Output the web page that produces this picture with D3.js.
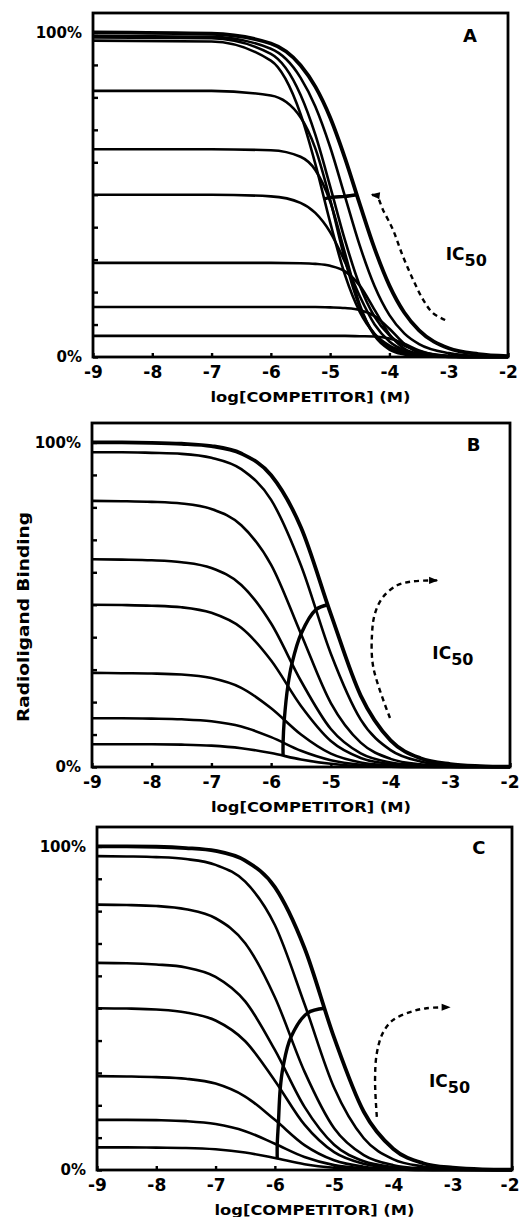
<!DOCTYPE html>
<html>
<head>
<meta charset="utf-8">
<script src="https://cdn.jsdelivr.net/npm/d3@7"></script>
<style>
  body { margin: 0; background: #fff; }
  text { font-family: "DejaVu Sans", "Liberation Sans", sans-serif; font-weight: bold; fill: #000; }
</style>
</head>
<body>
<div id="chart"></div>
<script>
// axis values
const xTicks = [-9, -8, -7, -6, -5, -4, -3, -2];
const yTicks = [0, 10, 20, 30, 40, 50, 60, 70, 80, 90, 100];
const yTickLabels = { 0: '0%', 100: '100%' };
const xTitle = 'log[COMPETITOR] (M)';
const yTitle = 'Radioligand  Binding';

// panel A: log[competitor] sample points and % binding per curve
const logA = [-9, -7, -6, -5.5, -5.25, -5, -4.75, -4.5, -4.25, -4, -3.75, -3.5, -3, -2.5, -2];
const bindA = [
  [100, 99.6, 96.6, 89.9, 83.3, 73.8, 61.3, 47.1, 33.4, 22.0, 13.7, 8.2, 2.7, 0.9, 0.3],
  [99, 98.7, 95.0, 86.1, 77.2, 64.7, 49.5, 34.3, 21.8, 12.9, 7.3, 4.0, 1.2, 0.3, 0.1],
  [98.5, 98.2, 93.4, 80.8, 68.5, 52.6, 36.0, 22.0, 12.4, 6.7, 3.5, 1.8, 0.4, 0.1, 0],
  [97.5, 97.2, 91.3, 74.9, 59.5, 41.5, 25.3, 13.9, 7.1, 3.5, 1.7, 0.8, 0.2, 0, 0],
  [82, 82, 80.6, 73.9, 64.3, 48.5, 30.0, 15.3, 6.9, 2.9, 1.2, 0.5, 0.1, 0, 0],
  [64, 64, 63.7, 61.7, 57.6, 47.9, 32.0, 16.1, 6.5, 2.3, 0.8, 0.3, 0, 0, 0],
  [50, 50, 49.5, 47.5, 44.4, 38.5, 29.3, 18.7, 10.0, 4.8, 2.1, 0.9, 0.2, 0, 0],
  [29, 29, 29, 28.9, 28.7, 28.1, 26.4, 22.0, 14.5, 7.0, 2.6, 0.9, 0, 0, 0],
  [15.4, 15.4, 15.4, 15.4, 15.4, 15.3, 15.1, 14.5, 12.6, 8.7, 4.1, 1.4, 0.1, 0, 0],
  [6.5, 6.5, 6.5, 6.5, 6.5, 6.5, 6.5, 6.4, 6.3, 5.7, 4.1, 2.0, 0.2, 0, 0]
];
const ic50A = [-4.55, -4.75, -4.95, -5.1];
const arrowA = [[-3.06, 11.4], [-3.27, 13.6], [-3.43, 17.6], [-3.60, 23.8], [-3.77, 30.9],
  [-3.94, 39.2], [-4.11, 45.4], [-4.21, 49.4], [-4.3, 50.0]];

// panel B
const logB = [-9, -8.5, -8, -7.5, -7, -6.5, -6, -5.5, -5, -4.5, -4, -3.5, -3, -2.5, -2];
const bindB = [
  [100, 100, 99.9, 99.6, 98.9, 96.6, 89.9, 73.8, 47.1, 22.0, 8.2, 2.7, 0.9, 0.3, 0.1],
  [97, 97, 96.8, 96.5, 95.3, 91.8, 82.3, 62.1, 34.9, 14.6, 5.2, 1.7, 0.5, 0.2, 0],
  [82, 81.9, 81.7, 81.2, 79.5, 74.5, 62.3, 41.0, 19.7, 7.5, 2.5, 0.8, 0.3, 0.1, 0],
  [64, 63.9, 63.7, 63.1, 61.3, 56.1, 44.2, 26.5, 11.7, 4.2, 1.4, 0.5, 0.1, 0, 0],
  [50, 49.9, 49.7, 49.2, 47.5, 42.9, 32.8, 18.8, 8.0, 2.8, 0.9, 0.3, 0.1, 0, 0],
  [29, 28.9, 28.8, 28.5, 27.4, 24.4, 18.1, 10.0, 4.1, 1.4, 0.5, 0.1, 0, 0, 0],
  [15, 15, 14.9, 14.7, 14.1, 12.5, 9.2, 5.0, 2.1, 0.7, 0.2, 0, 0, 0, 0],
  [7, 7, 7, 6.9, 6.6, 5.8, 4.3, 2.3, 1.0, 0.3, 0.1, 0, 0, 0, 0]
];
const ic50B = [-5.05, -5.25, -5.5, -5.65, -5.72, -5.78, -5.8, -5.8];
const arrowB = [[-4.01, 15.1], [-4.29, 30.8], [-4.31, 41.2], [-4.26, 47.4], [-4.13, 52.3],
  [-3.89, 56.0], [-3.62, 57.2], [-3.22, 57.5]];

// panel C
const logC = [-9, -8.5, -8, -7.5, -7, -6.5, -6, -5.5, -5, -4.5, -4, -3.5, -3, -2.5, -2];
const bindC = [
  [100, 100, 99.9, 99.5, 98.6, 95.6, 87.4, 68.6, 40.9, 18.0, 6.5, 2.1, 0.7, 0.2, 0.1],
  [97, 96.9, 96.7, 96.1, 94.3, 89.1, 75.7, 51.3, 25.4, 9.8, 3.3, 1.1, 0.3, 0.1, 0],
  [82, 81.9, 81.6, 80.6, 77.8, 70.1, 53.4, 30.4, 12.9, 4.6, 1.5, 0.5, 0.2, 0.1, 0],
  [64, 63.9, 63.5, 62.6, 59.7, 52.1, 37.1, 19.5, 7.8, 2.7, 0.9, 0.3, 0.1, 0, 0],
  [50, 49.9, 49.6, 48.7, 46.2, 39.8, 27.6, 14.0, 5.5, 1.9, 0.6, 0.2, 0.1, 0, 0],
  [29, 28.9, 28.7, 28.2, 26.7, 22.7, 15.5, 7.7, 3.0, 1.0, 0.3, 0.1, 0, 0, 0],
  [15.5, 15.5, 15.4, 15.1, 14.2, 12.0, 8.1, 4.0, 1.5, 0.5, 0.2, 0, 0, 0, 0],
  [7, 7, 6.9, 6.8, 6.4, 5.4, 3.7, 1.8, 0.7, 0.2, 0.1, 0, 0, 0, 0]
];
const ic50C = [-5.16, -5.45, -5.73, -5.86, -5.91, -5.94, -5.96, -5.96];
const arrowC = [[-4.28, 16.4], [-4.31, 27.8], [-4.28, 36.1], [-4.18, 42.3], [-4.01, 46.3],
  [-3.72, 48.8], [-3.44, 50.0], [-3.05, 50.3]];

const panels = [
  { name: 'A', xs: logA, series: bindA, ic50: ic50A, arrow: arrowA,
    l: 93, r: 508, t: 13, b: 357, letterAt: [-2.64, 97.2], icAt: [-3.05, 29.9] },
  { name: 'B', xs: logB, series: bindB, ic50: ic50B, arrow: arrowB,
    l: 92, r: 510, t: 423, b: 767, letterAt: [-2.61, 97.5], icAt: [-3.3, 33.3] },
  { name: 'C', xs: logC, series: bindC, ic50: ic50C, arrow: arrowC,
    l: 97, r: 512, t: 827, b: 1170, letterAt: [-2.56, 97.8], icAt: [-3.4, 25.6] }
];

const svg = d3.select('#chart').append('svg')
    .attr('width', 519)
    .attr('height', 1217);

svg.append('defs').append('marker')
    .attr('id', 'head')
    .attr('viewBox', '0 -5 10 10')
    .attr('refX', 9)
    .attr('refY', 0)
    .attr('markerUnits', 'userSpaceOnUse')
    .attr('markerWidth', 14)
    .attr('markerHeight', 9)
    .attr('orient', 'auto')
  .append('path')
    .attr('d', 'M0,-4L10,0L0,4Z')
    .attr('fill', '#000');

panels.forEach(p => {
  const g = svg.append('g');
  const x = d3.scaleLinear().domain([-9, -2]).range([p.l, p.r]);
  const y = d3.scaleLinear().domain([0, 106]).range([p.b, p.t]);

  // curves
  const line = d3.line()
      .x((d, i) => x(p.xs[i]))
      .y(d => y(d))
      .curve(d3.curveMonotoneX);

  g.selectAll('path.curve')
    .data(p.series)
    .join('path')
      .attr('class', 'curve')
      .attr('d', line)
      .attr('fill', 'none')
      .attr('stroke', '#000')
      .attr('stroke-width', (d, i) => i === 0 ? 3.8 : 2.6)
      .attr('stroke-linejoin', 'round');

  // IC50 locus: half of each curve's plateau
  const icPts = p.ic50.map((v, i) => [v, p.series[i][0] / 2]);
  g.append('path')
      .datum(icPts)
      .attr('d', d3.line().x(d => x(d[0])).y(d => y(d[1])).curve(d3.curveCatmullRom))
      .attr('fill', 'none')
      .attr('stroke', '#000')
      .attr('stroke-width', 3.4);

  // dashed arrow
  g.append('path')
      .datum(p.arrow)
      .attr('d', d3.line().x(d => x(d[0])).y(d => y(d[1])).curve(d3.curveCatmullRom))
      .attr('fill', 'none')
      .attr('stroke', '#000')
      .attr('stroke-width', 2.4)
      .attr('stroke-dasharray', '5,4')
      .attr('marker-end', 'url(#head)');

  // frame
  g.append('rect')
      .attr('x', p.l)
      .attr('y', p.t)
      .attr('width', p.r - p.l)
      .attr('height', p.b - p.t)
      .attr('fill', 'none')
      .attr('stroke', '#000')
      .attr('stroke-width', 2.8);

  // axes
  const xAxis = g.append('g')
      .attr('transform', `translate(0,${p.b})`)
      .call(d3.axisBottom(x).tickValues(xTicks).tickSizeInner(-4).tickSizeOuter(0)
        .tickPadding(9).tickFormat(d => String(d)));
  xAxis.select('.domain').remove();
  xAxis.selectAll('line').attr('stroke-width', 2.4);
  xAxis.selectAll('text')
      .attr('font-size', 17)
      .attr('font-family', '"DejaVu Sans", sans-serif')
      .attr('font-weight', 'bold');
  // keep the last label inside the page
  xAxis.selectAll('.tick').filter(d => x(d) + 10 > 519)
    .select('text')
      .attr('text-anchor', 'end')
      .attr('x', 519 - x(-2));

  const yAxis = g.append('g')
      .attr('transform', `translate(${p.l},0)`)
      .call(d3.axisLeft(y).tickValues(yTicks).tickSizeInner(-5).tickSizeOuter(0)
        .tickPadding(11).tickFormat(d => yTickLabels[d] || ''));
  yAxis.select('.domain').remove();
  yAxis.selectAll('line').attr('stroke-width', 2.4);
  yAxis.selectAll('text')
      .attr('font-size', 15)
      .attr('font-family', '"DejaVu Sans", sans-serif')
      .attr('font-weight', 'bold');

  g.append('text')
      .attr('x', (p.l + p.r) / 2 + 10)
      .attr('y', p.b + 45)
      .attr('text-anchor', 'middle')
      .attr('font-size', 14)
      .attr('textLength', 200)
      .attr('lengthAdjust', 'spacingAndGlyphs')
      .text(xTitle);

  // panel letter
  g.append('text')
      .attr('x', x(p.letterAt[0]))
      .attr('y', y(p.letterAt[1]))
      .attr('text-anchor', 'middle')
      .attr('font-size', 18)
      .text(p.name);

  // IC50 label
  const ic = g.append('text')
      .attr('x', x(p.icAt[0]))
      .attr('y', y(p.icAt[1]))
      .attr('font-size', 17);
  ic.append('tspan').text('IC');
  ic.append('tspan').attr('dy', 6).attr('font-size', 16).text('50');
});

svg.append('text')
    .attr('transform', 'translate(29,617) rotate(-90)')
    .attr('text-anchor', 'middle')
    .attr('font-size', 16)
    .attr('textLength', 210)
    .attr('lengthAdjust', 'spacingAndGlyphs')
    .text(yTitle);
</script>
</body>
</html>
